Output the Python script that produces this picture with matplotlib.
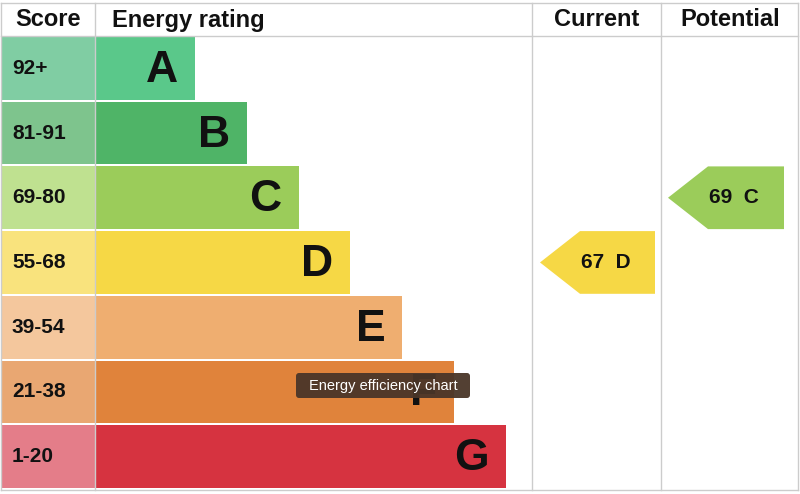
import matplotlib
matplotlib.use("Agg")
import matplotlib.pyplot as plt
from matplotlib.patches import Rectangle, Polygon, FancyBboxPatch

plt.rcParams["font.family"] = ["Liberation Sans", "DejaVu Sans"]

scores = ["92+", "81-91", "69-80", "55-68", "39-54", "21-38", "1-20"]
letters = ["A", "B", "C", "D", "E", "F", "G"]
bar_colors = ["#5ac88a", "#4fb467", "#9bcc5a", "#f6d845", "#efae70", "#e0833b", "#d63340"]
score_colors = ["#80cda3", "#7ec48d", "#bfe190", "#f9e37d", "#f4c79d", "#e9a772", "#e47d89"]
current_score, current_letter = 67, "D"
potential_score, potential_letter = 69, "C"

fig = plt.figure(figsize=(8, 4.94), dpi=100)
ax = fig.add_axes([0, 0, 1, 1])
ax.set_xlim(0, 800); ax.set_ylim(494, 0); ax.axis("off")

top, rh = 36, 64.7
gc = "#cccccc"
for x in [1, 95, 532, 661, 798]:
    ax.plot([x, x], [3, 490], color=gc, lw=1)
ax.plot([1, 798], [3, 3], color=gc, lw=1)
ax.plot([1, 798], [top, top], color=gc, lw=1)
ax.plot([1, 798], [490, 490], color=gc, lw=1)

hk = dict(fontsize=17, fontweight="bold", va="center", color="#111")
ax.text(48, 20, "Score", ha="center", **hk)
ax.text(112, 20, "Energy rating", ha="left", **hk)
ax.text(597, 20, "Current", ha="center", **hk)
ax.text(730, 20, "Potential", ha="center", **hk)

for i, (s, l) in enumerate(zip(scores, letters)):
    y0 = top + i * rh + 1
    h = rh - 2
    end = 195 + 51.8 * i
    ax.add_patch(Rectangle((1, y0), 94, h, color=score_colors[i], lw=0))
    ax.add_patch(Rectangle((95, y0), end - 95, h, color=bar_colors[i], lw=0))
    ax.text(12, y0 + h / 2, s, ha="left", va="center", fontsize=15, fontweight="bold", color="#111")
    ax.text(end - 17, y0 + h / 2 + 2, l, ha="right", va="center", fontsize=32, fontweight="bold", color="#111")

def arrow(x0, x1, i, val, l):
    y0 = top + i * rh + 1
    h = rh - 2
    tip = 40
    ax.add_patch(Polygon([(x0, y0 + h / 2), (x0 + tip, y0), (x1, y0), (x1, y0 + h), (x0 + tip, y0 + h)],
                         closed=True, color=bar_colors[i], lw=0))
    ax.text(x0 + (x1 - x0) / 2 + 8, y0 + h / 2, f"{val}  {l}", ha="center", va="center",
            fontsize=15, fontweight="bold", color="#111")

arrow(540, 655, letters.index(current_letter), current_score, current_letter)
arrow(668, 784, letters.index(potential_letter), potential_score, potential_letter)

ax.add_patch(FancyBboxPatch((296, 373), 174, 25, boxstyle="round,pad=0,rounding_size=3",
                            color="#4a3528", lw=0, alpha=0.95, zorder=5))
ax.text(383, 386, "Energy efficiency chart", ha="center", va="center", fontsize=10.5,
        color="white", zorder=6)

fig.savefig("out.png", dpi=100)
